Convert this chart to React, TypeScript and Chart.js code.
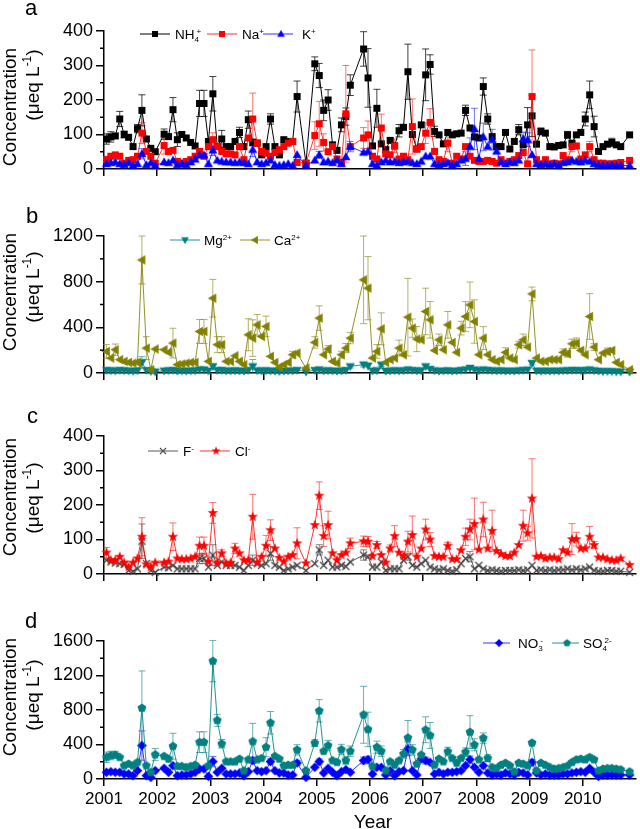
import React, { useEffect, useRef } from "react";
import { Chart, registerables } from "chart.js";

Chart.register(...registerables);

const FONT = "'Liberation Sans', Arial, Helvetica, sans-serif";
Chart.defaults.font.family = FONT;
Chart.defaults.color = "#000";

// ---------- monthly time axis (Jan 2001 ... Nov 2010) ----------
const N = 119;
const months = Array.from({ length: N }, (_, i) => 2001 + (i + 0.55) / 12);
const yearTicks = [2001, 2002, 2003, 2004, 2005, 2006, 2007, 2008, 2009, 2010];

// ---------- panel a ----------
const nh4 = [
  87, 93, 96, 145, 100, 92, 65, 117, 170, 87, 60, 50,
  null, 101, 94, 172, 85, 100, 90, 77, 67, 190, 190, 80,
  218, 65, 87, 65, 65, 80, 106, 65, 143, 77, 75, 41,
  65, 145, 65, 41, 85, 80, 80, 210, null, 17, null, 305,
  271, 170, 200, 70, 54, 128, 152, 243, null, null, 348, 264,
  67, 176, 73, 56, 83, 67, 111, 121, 282, 100, 58, 128,
  273, 303, 109, 99, 73, 106, 99, 102, 104, 170, 119, 93,
  90, 239, 145, 94, 65, 65, 106, 58, 80, 114, 70, 128,
  154, 72, 109, 104, 65, 64, 68, 70, 99, 75, 99, 106,
  145, 215, 123, 51, 65, 72, 77, 70, 65, null, 99,
];
const na = [
  27, 37, 41, 37, 17, 25, 27, 37, 104, 51, 37, 17,
  null, 68, 51, 54, 22, 17, 22, 27, 37, 51, 37, 65,
  85, 65, 51, 44, 44, 41, 65, 27, 90, 145, 75, 51,
  46, 37, 48, 56, 65, 75, 80, 19, null, 17, null, 97,
  131, 77, 50, 65, 29, 19, 160, 65, null, null, 90, 99,
  37, 29, 119, 44, 41, 67, 29, 37, 27, 123, 58, 65,
  104, 135, 51, 27, 22, 75, 17, 37, 29, 65, 37, 25,
  22, 22, 25, 22, 17, 27, 17, 22, 27, 39, 48, 15,
  210, 27, 15, 27, 15, 17, 15, 39, 27, 65, 67, 29,
  41, 65, 27, 17, 17, 15, 15, 17, 19, null, 25,
];
const kPlus = [
  15, 18, 20, 15, 12, 18, 10, 15, 44, 12, 18, 10,
  null, 20, 18, 25, 12, 15, 12, 20, 28, 40, 40, 15,
  54, 25, 22, 20, 20, 18, 20, 18, 15, 56, 20, 15,
  18, 25, 12, 10, 12, 15, 10, 41, null, 10, null, 25,
  41, 20, 22, 18, 25, 15, 35, 65, null, null, 48, 51,
  15, 10, 20, 25, 20, 22, 18, 20, 22, 18, 15, 22,
  37, 37, 15, 12, 15, 18, 10, 15, 25, 30, 65, 116,
  30, 93, 65, 85, 51, 20, 15, 20, 18, 25, 87, 85,
  41, 15, 12, 15, 12, 15, 10, 18, 20, 25, 22, 20,
  25, 22, 15, 12, 10, 10, 12, 10, 10, null, 10,
];
const nh4Err = [[0, 15], [1, 15], [3, 22], [4, 10], [7, 12], [8, 45], [13, 15], [15, 35], [16, 20], [21, 38], [22, 38], [24, 50], [26, 25], [30, 15], [32, 25], [33, 10], [37, 15], [43, 45], [47, 20], [48, 35], [49, 30], [50, 30], [53, 20], [54, 25], [55, 30], [58, 50], [59, 85], [61, 55], [66, 18], [68, 80], [72, 75], [73, 28], [74, 15], [81, 15], [85, 25], [86, 15], [93, 15], [95, 50], [96, 60], [98, 10], [104, 10], [108, 20], [109, 40], [110, 30], [114, 12]];
const naErr = [[0, 10], [8, 30], [13, 25], [24, 20], [33, 75], [47, 40], [48, 65], [49, 25], [54, 140], [58, 30], [59, 40], [62, 40], [65, 20], [69, 80], [72, 30], [73, 40], [77, 25], [96, 135], [105, 15], [109, 15]];
const kErr = [[8, 15], [24, 15], [33, 20], [48, 10], [55, 15], [81, 20], [82, 25], [83, 60], [85, 40], [87, 30], [94, 20], [95, 20]];

// ---------- panel b ----------
const mg = [
  25, 22, 20, 25, 22, 20, 18, 22, 93, 25, 15, 12,
  null, 20, 22, 25, 18, 20, 18, 20, 22, 30, 30, 20,
  58, 25, 25, 20, 20, 22, 20, 18, 25, 58, 22, 20,
  22, 20, 18, 15, 18, 20, 20, 25, null, 12, null, 25,
  30, 20, 22, 20, 18, 20, 25, 58, null, null, 73, 64,
  20, 22, 73, 18, 20, 22, 20, 22, 30, 25, 20, 22,
  58, 35, 22, 18, 20, 22, 18, 20, 25, 30, 44, 30,
  22, 30, 25, 22, 20, 22, 18, 20, 18, 22, 25, 28,
  87, 20, 18, 20, 18, 20, 18, 22, 22, 25, 25, 22,
  25, 30, 22, 18, 15, 15, 15, 12, 12, null, 10,
];
const ca = [
  189, 131, 204, 117, 102, 93, 87, 93, 990, 218, 29, 210,
  null, 204, 181, 262, 73, 79, 87, 93, 93, 364, 364, 102,
  655, 248, 248, 102, 102, 151, 102, 73, 335, 306, 422, 320,
  408, 146, 93, 50, 73, 93, 160, 175, null, 44, null, 268,
  481, 160, 210, 102, 87, 160, 218, 306, null, null, 816, 743,
  131, 189, 387, 93, 117, 131, 218, 160, 489, 393, 297, 291,
  539, 466, 198, 291, 204, 422, 268, 181, 393, 495, 597, 451,
  160, 306, 160, 117, 102, 117, 181, 131, 117, 248, 291, 227,
  693, 131, 102, 102, 117, 117, 117, 181, 169, 256, 262, 198,
  160, 495, 227, 117, 175, 189, 198, 93, 73, null, 29,
];
const mgErr = [[8, 50], [24, 20], [33, 60], [55, 15], [58, 20], [62, 15], [72, 15], [96, 15]];
const caErr = [[0, 60], [2, 50], [8, 210], [9, 100], [15, 130], [21, 105], [22, 105], [24, 165], [25, 70], [26, 70], [32, 140], [33, 160], [34, 90], [36, 90], [42, 30], [47, 50], [48, 107], [50, 30], [53, 30], [54, 40], [55, 50], [58, 384], [59, 277], [61, 60], [62, 140], [66, 70], [68, 340], [69, 80], [70, 110], [72, 204], [73, 160], [75, 50], [77, 117], [80, 60], [81, 130], [82, 200], [83, 190], [85, 100], [90, 40], [93, 30], [94, 50], [96, 60], [103, 30], [104, 30], [105, 40], [106, 45], [109, 200], [110, 30], [113, 30]];

// ---------- panel c ----------
const fMinus = [
  40, 35, 32, 30, 28, 10, 8, 15, 95, 30, 10, 5,
  null, 20, 18, 25, 15, 15, 15, 15, 15, 45, 45, 20,
  55, 25, 35, 25, 25, 25, 20, 10, 25, 40, 30, 25,
  30, 60, 25, 20, 10, 15, 20, 25, null, 10, null, 30,
  70, 25, 40, 20, 20, 25, 22, 35, null, null, 55, 50,
  20, 20, 35, 10, 15, 15, 15, 40, 50, 25, 20, 30,
  40, 20, 15, 12, 15, 10, 8, 12, 30, 45, 50, 15,
  25, 15, 10, 12, 10, 8, 10, 10, 10, 12, 10, 12,
  25, 10, 12, 10, 12, 10, 12, 12, 15, 12, 15, 12,
  15, 20, 10, 8, 8, 10, 10, 8, 8, null, 5,
];
const cl = [
  62, 40, 40, 50, 33, 21, 33, 45, 108, 28, 21, 33,
  null, 33, 36, 108, 45, 43, 43, 45, 50, 82, 82, 36,
  177, 33, 60, 31, 33, 74, 60, 40, 40, 166, 33, 50,
  82, 127, 74, 47, 36, 50, 55, 89, null, 31, null, 142,
  227, 110, 142, 60, 40, 55, 62, 89, null, null, 95, 94,
  52, 84, 55, 33, 74, 110, 62, 52, 94, 113, 50, 74,
  129, 100, 52, 50, 50, 82, 43, 43, 69, 108, 129, 145,
  71, 158, 74, 125, 67, 58, 52, 52, 62, 84, 140, 118,
  219, 50, 52, 45, 48, 48, 43, 69, 62, 101, 101, 74,
  74, 108, 84, 48, 48, 43, 40, 39, 45, null, 26,
];
const fErr = [[8, 50], [21, 15], [22, 15], [24, 30], [33, 15], [37, 20], [48, 15], [58, 15], [68, 10], [82, 15]];
const clErr = [[0, 15], [8, 55], [15, 40], [21, 25], [22, 25], [24, 30], [26, 10], [29, 15], [33, 65], [36, 30], [37, 30], [43, 45], [48, 40], [49, 30], [50, 40], [55, 15], [58, 15], [59, 15], [61, 10], [64, 10], [65, 30], [68, 30], [69, 55], [72, 30], [73, 20], [77, 10], [81, 25], [82, 30], [83, 75], [85, 50], [87, 60], [94, 45], [95, 20], [96, 115], [105, 45], [106, 20], [109, 30], [110, 10]];

// ---------- panel d ----------
const no3 = [
  78, 85, 78, 78, 58, 58, 39, 97, 388, 39, 19, 97,
  null, 124, 78, 155, 39, 47, 47, 58, 78, 117, 117, 31,
  202, 78, 124, 58, 58, 58, 70, 39, 85, 214, 97, 85,
  97, 202, 97, 70, 70, 47, 47, 186, null, 19, null, 136,
  202, 70, 124, 78, 39, 85, 109, 78, null, null, 214, 225,
  58, 136, 136, 47, 97, 39, 85, 97, 349, 97, 47, 233,
  214, 194, 58, 78, 58, 78, 78, 85, 97, 155, 225, 136,
  78, 155, 70, 47, 58, 47, 70, 58, 47, 78, 70, 47,
  194, 70, 47, 58, 47, 47, 47, 58, 58, 70, 78, 85,
  78, 124, 78, 31, 47, 47, 47, 47, 47, null, 47,
];
const so4 = [
  252, 272, 280, 252, 155, 175, 155, 194, 823, 155, 78, 283,
  null, 264, 233, 380, 148, 148, 136, 148, 163, 427, 427, 155,
  1367, 680, 408, 202, 202, 202, 233, 97, 225, 435, 225, 241,
  369, 652, 264, 233, 155, 163, 163, 338, null, 97, null, 416,
  790, 322, 388, 214, 194, 342, 214, 322, null, null, 745, 575,
  148, 369, 322, 97, 202, 163, 214, 291, 478, 338, 175, 280,
  571, 505, 163, 233, 202, 318, 241, 186, 241, 311, 544, 396,
  225, 474, 241, 136, 124, 163, 186, 155, 85, 186, 175, 155,
  419, 97, 186, 163, 136, 117, 124, 136, 155, 194, 225, 233,
  225, 252, 225, 97, 117, 124, 124, 117, 109, null, 85,
];
const no3Err = [[8, 170], [24, 60], [33, 30], [37, 30], [43, 30], [48, 30], [58, 40], [59, 40], [68, 80], [71, 40], [72, 40], [82, 40], [96, 30]];
const so4Err = [[0, 60], [1, 50], [2, 40], [8, 430], [11, 70], [15, 150], [21, 120], [22, 120], [24, 240], [25, 70], [26, 50], [33, 210], [36, 110], [37, 130], [43, 60], [47, 40], [48, 130], [50, 60], [53, 60], [54, 40], [55, 60], [58, 330], [59, 200], [61, 70], [62, 60], [67, 50], [68, 200], [69, 60], [72, 150], [73, 150], [77, 50], [81, 50], [82, 190], [83, 70], [85, 60], [86, 40], [96, 20], [105, 20], [109, 30], [110, 20]];

// ---------- text helpers ----------
type Seg = { t: string; k: "n" | "sup" | "sub" };
const S = (t: string, k: "n" | "sup" | "sub" = "n"): Seg => ({ t, k });

function drawRich(ctx: CanvasRenderingContext2D, segs: Seg[], x: number, y: number, size: number, align: "left" | "center", stack = false) {
  const parts = segs.map((s) => {
    const fs = s.k === "n" ? size : Math.round(size * 0.62);
    ctx.font = `${fs}px ${FONT}`;
    return { s, fs, w: ctx.measureText(s.t).width };
  });
  // compute positions (optionally stacking a superscript over a preceding subscript)
  const xs: number[] = [];
  let cur = 0;
  let prevStart = 0;
  let prevW = 0;
  parts.forEach((p, i) => {
    if (stack && p.s.k === "sup" && i > 0 && parts[i - 1].s.k === "sub") {
      const st = prevStart + prevW * 0.45;
      xs.push(st);
      cur = Math.max(cur, st + p.w);
    } else {
      xs.push(cur);
      prevStart = cur;
      prevW = p.w;
      cur += p.w;
    }
  });
  const total = cur;
  const ox = align === "center" ? x - total / 2 : x;
  ctx.textAlign = "left";
  ctx.textBaseline = "alphabetic";
  parts.forEach((p, i) => {
    ctx.font = `${p.fs}px ${FONT}`;
    const dy = p.s.k === "sup" ? -size * 0.4 : p.s.k === "sub" ? size * 0.22 : 0;
    ctx.fillText(p.s.t, ox + xs[i], y + dy);
  });
}

function shapePath(ctx: CanvasRenderingContext2D, shape: string, cx: number, cy: number, r: number) {
  ctx.beginPath();
  if (shape === "square") {
    ctx.rect(cx - r, cy - r, 2 * r, 2 * r);
  } else if (shape === "triUp") {
    ctx.moveTo(cx, cy - r * 1.2); ctx.lineTo(cx + r * 1.15, cy + r * 0.8); ctx.lineTo(cx - r * 1.15, cy + r * 0.8); ctx.closePath();
  } else if (shape === "triDown") {
    ctx.moveTo(cx, cy + r * 1.2); ctx.lineTo(cx + r * 1.15, cy - r * 0.8); ctx.lineTo(cx - r * 1.15, cy - r * 0.8); ctx.closePath();
  } else if (shape === "triLeft") {
    ctx.moveTo(cx - r * 1.2, cy); ctx.lineTo(cx + r * 0.8, cy - r * 1.15); ctx.lineTo(cx + r * 0.8, cy + r * 1.15); ctx.closePath();
  } else if (shape === "diamond") {
    ctx.moveTo(cx, cy - r * 1.35); ctx.lineTo(cx + r * 1.35, cy); ctx.lineTo(cx, cy + r * 1.35); ctx.lineTo(cx - r * 1.35, cy); ctx.closePath();
  } else if (shape === "star") {
    for (let j = 0; j < 10; j++) {
      const a = -Math.PI / 2 + (j * Math.PI) / 5;
      const rr = j % 2 === 0 ? r * 1.45 : r * 0.6;
      const px = cx + rr * Math.cos(a), py = cy + rr * Math.sin(a);
      if (j === 0) ctx.moveTo(px, py); else ctx.lineTo(px, py);
    }
    ctx.closePath();
  } else if (shape === "pentagon") {
    for (let j = 0; j < 5; j++) {
      const a = -Math.PI / 2 + (j * 2 * Math.PI) / 5;
      const px = cx + r * 1.25 * Math.cos(a), py = cy + r * 1.25 * Math.sin(a);
      if (j === 0) ctx.moveTo(px, py); else ctx.lineTo(px, py);
    }
    ctx.closePath();
  } else if (shape === "cross") {
    ctx.moveTo(cx - r, cy - r); ctx.lineTo(cx + r, cy + r);
    ctx.moveTo(cx + r, cy - r); ctx.lineTo(cx - r, cy + r);
  }
}

function makeMarker(shape: string, color: string, r: number): HTMLCanvasElement {
  const c = document.createElement("canvas");
  const s = Math.ceil(r * 3 + 2);
  c.width = s; c.height = s;
  const ctx = c.getContext("2d")!;
  shapePath(ctx, shape, s / 2, s / 2, r);
  if (shape === "cross") { ctx.strokeStyle = color; ctx.lineWidth = 1.2; ctx.stroke(); }
  else { ctx.fillStyle = color; ctx.fill(); }
  return c;
}

// ---------- panel layout ----------
const PANELS = [
  {
    key: "a", top: 0, height: 190, plotTop: 31, xh: 21, ymax: 400, step: 100, showX: false,
    letter: { t: "a", x: 25, y: 15 }, titleCy: [107, 85], legendY: 34,
    series: [
      { segs: [S("NH"), S("4", "sub"), S("+", "sup")], vals: nh4, errs: nh4Err, color: "#000000", line: "#000000", err: "rgba(0,0,0,0.75)", shape: "square", r: 3.5, lx: [140, 170, 155, 175] },
      { segs: [S("Na"), S("+", "sup")], vals: na, errs: naErr, color: "#ff0000", line: "rgba(255,0,0,0.8)", err: "rgba(255,0,0,0.55)", shape: "square", r: 3.5, lx: [207, 237, 222, 242] },
      { segs: [S("K"), S("+", "sup")], vals: kPlus, errs: kErr, color: "#0000ff", line: "rgba(0,0,255,0.8)", err: "rgba(0,0,255,0.55)", shape: "triUp", r: 4, lx: [263, 293, 281, 302] },
    ],
  },
  {
    key: "b", top: 190, height: 200, plotTop: 46, xh: 17, ymax: 1200, step: 400, showX: false,
    letter: { t: "b", x: 26, y: 223 }, titleCy: [292, 287], legendY: 240,
    series: [
      { segs: [S("Mg"), S("2+", "sup")], vals: mg, errs: mgErr, color: "#008080", line: "rgba(0,128,128,0.85)", err: "rgba(0,128,128,0.6)", shape: "triDown", r: 4, lx: [170, 200, 185, 204] },
      { segs: [S("Ca"), S("2+", "sup")], vals: ca, errs: caErr, color: "#808000", line: "rgba(128,128,0,0.85)", err: "rgba(128,128,0,0.6)", shape: "triLeft", r: 4.2, lx: [240, 270, 255, 274] },
    ],
  },
  {
    key: "c", top: 390, height: 200, plotTop: 46, xh: 16, ymax: 400, step: 100, showX: false,
    letter: { t: "c", x: 27, y: 423 }, titleCy: [497, 498], legendY: 451,
    series: [
      { segs: [S("F"), S("-", "sup")], vals: fMinus, errs: fErr, color: "#404040", line: "rgba(60,60,60,0.85)", err: "rgba(60,60,60,0.6)", shape: "cross", r: 3.5, lx: [148, 178, 163, 183] },
      { segs: [S("Cl"), S("-", "sup")], vals: cl, errs: clErr, color: "#ff0000", line: "rgba(255,0,0,0.8)", err: "rgba(255,0,0,0.55)", shape: "star", r: 3.8, lx: [200, 230, 216, 235] },
    ],
  },
  {
    key: "d", top: 590, height: 239, plotTop: 51, xh: 50, ymax: 1600, step: 400, showX: true,
    letter: { t: "d", x: 25, y: 628 }, titleCy: [697, 695], legendY: 643,
    series: [
      { segs: [S("NO"), S("3", "sub"), S("-", "sup")], vals: no3, errs: no3Err, color: "#0000ff", line: "rgba(0,0,255,0.8)", err: "rgba(0,0,255,0.55)", shape: "diamond", r: 3.6, lx: [483, 510, 499, 518] },
      { segs: [S("SO"), S("4", "sub"), S("2-", "sup")], vals: so4, errs: so4Err, color: "#008080", line: "rgba(0,128,128,0.85)", err: "rgba(0,128,128,0.6)", shape: "pentagon", r: 3.7, lx: [552, 579, 567, 583] },
    ],
  },
];

function buildConfig(p: any) {
  const markers = p.series.map((s: any) => makeMarker(s.shape, s.color, s.r));
  const datasets = p.series.map((s: any, k: number) => ({
    label: s.segs.map((g: Seg) => g.t).join(""),
    data: months.map((x, i) => ({ x, y: s.vals[i] })),
    borderColor: s.line,
    backgroundColor: s.color,
    borderWidth: 1,
    pointStyle: markers[k],
    pointRadius: 4,
    pointHoverRadius: 4,
    pointBorderWidth: 0,
    spanGaps: true,
    tension: 0,
    clip: false,
    order: -k,
  }));

  const errorBars = {
    id: "errorBars" + p.key,
    beforeDatasetsDraw(chart: any) {
      const { ctx, chartArea } = chart;
      const ys = chart.scales.y;
      ctx.save();
      ctx.beginPath();
      ctx.rect(chartArea.left - 10, chartArea.top - 1, chartArea.right - chartArea.left + 20, chartArea.bottom - chartArea.top + 10);
      ctx.clip();
      p.series.forEach((s: any, k: number) => {
        const meta = chart.getDatasetMeta(k);
        ctx.strokeStyle = s.err;
        ctx.lineWidth = 1;
        s.errs.forEach(([i, e]: number[]) => {
          const v = s.vals[i];
          const pt = meta.data[i];
          if (v == null || !pt) return;
          const x = pt.x;
          const yt = ys.getPixelForValue(v + e);
          const yb = ys.getPixelForValue(Math.max(0, v - e));
          ctx.beginPath();
          ctx.moveTo(x, yt); ctx.lineTo(x, yb);
          ctx.moveTo(x - 3.5, yt); ctx.lineTo(x + 3.5, yt);
          if (v - e > 0) { ctx.moveTo(x - 3.5, yb); ctx.lineTo(x + 3.5, yb); }
          ctx.stroke();
        });
      });
      ctx.restore();
    },
  };

  const deco = {
    id: "deco" + p.key,
    afterDraw(chart: any) {
      const ctx = chart.ctx as CanvasRenderingContext2D;
      const ca2 = chart.chartArea;
      const ys = chart.scales.y;
      ctx.save();
      // minor y ticks
      ctx.strokeStyle = "#000";
      ctx.lineWidth = 1.5;
      for (let v = p.step / 2; v < p.ymax; v += p.step) {
        const py = ys.getPixelForValue(v);
        ctx.beginPath(); ctx.moveTo(ca2.left - 4, py); ctx.lineTo(ca2.left, py); ctx.stroke();
      }
      // panel letter
      ctx.fillStyle = "#000";
      ctx.font = `22px ${FONT}`;
      ctx.textAlign = "left";
      ctx.textBaseline = "alphabetic";
      ctx.fillText(p.letter.t, p.letter.x, p.letter.y - p.top);
      // y titles
      const titles = [
        { bx: 15.6, cy: p.titleCy[0], segs: [S("Concentration")] },
        { bx: 38.5, cy: p.titleCy[1], segs: [S("(μeq L"), S("-1", "sup"), S(")")] },
      ];
      titles.forEach((t) => {
        ctx.save();
        ctx.translate(t.bx, t.cy - p.top);
        ctx.rotate(-Math.PI / 2);
        drawRich(ctx, t.segs, 0, 0, 19, "center");
        ctx.restore();
      });
      // legend
      const ly = p.legendY - p.top;
      p.series.forEach((s: any, k: number) => {
        const [x1, x2, mx, tx] = s.lx;
        ctx.strokeStyle = s.line;
        ctx.lineWidth = 1;
        ctx.beginPath(); ctx.moveTo(x1, ly); ctx.lineTo(x2, ly); ctx.stroke();
        const m = markers[k];
        const w = m.width * 0.85, h = m.height * 0.85;
        ctx.drawImage(m, mx - w / 2, ly - h / 2, w, h);
        ctx.fillStyle = "#000";
        drawRich(ctx, s.segs, tx, ly + 5, 13.5, "left", true);
      });
      if (p.showX) {
        ctx.fillStyle = "#000";
        ctx.font = `19px ${FONT}`;
        ctx.textAlign = "center";
        ctx.textBaseline = "alphabetic";
        ctx.fillText("Year", 373, 828 - p.top);
      }
      ctx.restore();
    },
  };

  return {
    type: "line",
    data: { datasets },
    plugins: [errorBars, deco],
    options: {
      responsive: false,
      animation: false,
      events: [],
      layout: { padding: { top: p.plotTop, right: 1, left: 0, bottom: 0 } },
      plugins: { legend: { display: false }, tooltip: { enabled: false } },
      scales: {
        x: {
          type: "linear",
          min: 2001,
          max: 2011,
          afterBuildTicks: (sc: any) => {
            sc.ticks = yearTicks.map((v) => ({ value: v }));
          },
          afterFit: (sc: any) => { sc.height = p.xh; },
          ticks: {
            display: p.showX,
            autoSkip: false,
            maxRotation: 0,
            padding: 3,
            font: { size: 17 },
            color: "#000",
            callback: (v: any) => String(v),
          },
          grid: { drawOnChartArea: false, tickLength: 7, color: "#000", lineWidth: 1.5 },
          border: { display: true, color: "#000", width: 1.5 },
        },
        y: {
          min: 0,
          max: p.ymax,
          afterFit: (sc: any) => { sc.width = 104; },
          ticks: { stepSize: p.step, font: { size: 18 }, color: "#000", padding: 3, callback: (v: any) => String(v) },
          grid: { drawOnChartArea: false, tickLength: 8, color: "#000", lineWidth: 1.5 },
          border: { display: true, color: "#000", width: 1.5 },
        },
      },
    },
  };
}

export default function App() {
  const r0 = useRef<HTMLCanvasElement>(null);
  const r1 = useRef<HTMLCanvasElement>(null);
  const r2 = useRef<HTMLCanvasElement>(null);
  const r3 = useRef<HTMLCanvasElement>(null);
  const refs = [r0, r1, r2, r3];

  useEffect(() => {
    const charts = PANELS.map((p, k) => new Chart(refs[k].current as HTMLCanvasElement, buildConfig(p) as any));
    return () => charts.forEach((c) => c.destroy());
  }, []);

  return (
    <div style={{ position: "absolute", left: 0, top: 0, width: 640, height: 829, background: "#fff", overflow: "hidden" }}>
      {PANELS.map((p, k) => (
        <canvas
          key={p.key}
          ref={refs[k]}
          width={640}
          height={p.height}
          style={{ position: "absolute", left: 0, top: p.top, width: 640, height: p.height }}
        />
      ))}
    </div>
  );
}
